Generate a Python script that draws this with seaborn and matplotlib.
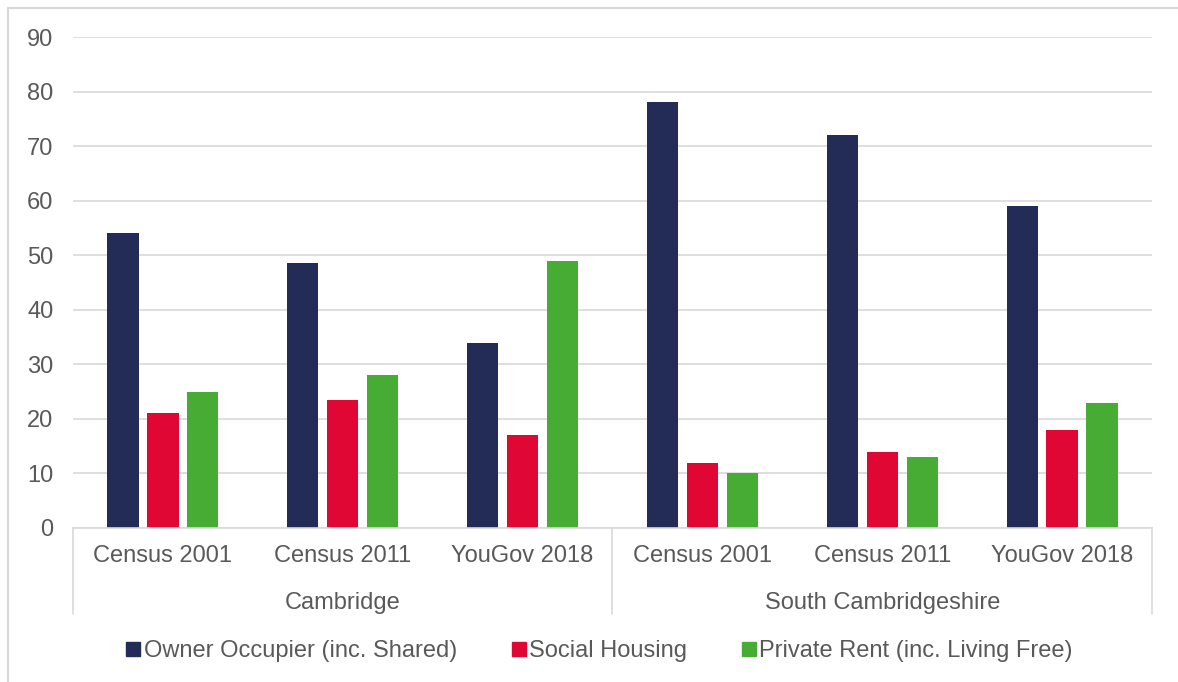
import pandas as pd
import seaborn as sns
import matplotlib.pyplot as plt
from matplotlib.lines import Line2D

# Data
groups = ['Cambridge', 'South Cambridgeshire']
periods = ['Census 2001', 'Census 2011', 'YouGov 2018']
series = ['Owner Occupier (inc. Shared)', 'Social Housing', 'Private Rent (inc. Living Free)']
owner = [54, 48.5, 34, 78, 72, 59]
social = [21, 23.5, 17, 12, 14, 18]
private = [25, 28, 49, 10, 13, 23]
colors = ['#232B57', '#E00735', '#46AC34']

# Long-form table
rows = []
for i in range(6):
    for name, vals in zip(series, [owner, social, private]):
        rows.append({'pos': i, 'series': name, 'value': vals[i]})
df = pd.DataFrame(rows)

sns.set_theme(style='white')
plt.rcParams['font.family'] = ['Liberation Sans', 'DejaVu Sans']
grey = '#595959'
fs = 17

fig = plt.figure(figsize=(11.78, 6.82), dpi=100)
ax = fig.add_axes([73 / 1178, 1 - 528 / 682, (1152 - 73) / 1178, (528 - 37) / 682])

sns.barplot(
    data=df, x='pos', y='value', hue='series',
    hue_order=series, palette=colors,
    width=0.667, gap=0.22, saturation=1,
    edgecolor='none', ax=ax, legend=False
)

ax.set_ylim(0, 90)
ax.set_xlim(-0.5, 5.5)
ax.set_yticks(range(0, 91, 10))
ax.yaxis.grid(True, color='#d9d9d9', linewidth=1.2)
ax.set_axisbelow(True)
for s in ['left', 'right', 'top']:
    ax.spines[s].set_visible(False)
ax.spines['bottom'].set_color('#d9d9d9')
ax.spines['bottom'].set_linewidth(1.2)

ax.set_xticks(range(6))
ax.set_xticklabels(periods * 2)
ax.tick_params(axis='x', length=0, pad=12.5, labelsize=fs, labelcolor=grey)
ax.tick_params(axis='y', length=0, pad=14, labelsize=fs, labelcolor=grey)
ax.set_xlabel('')
ax.set_ylabel('')

# Group separators and labels
trans = ax.get_xaxis_transform()
for xv in [-0.5, 2.5, 5.5]:
    ax.plot([xv, xv], [0, -0.175], transform=trans, color='#d9d9d9',
            linewidth=1.2, clip_on=False)
for gi, g in enumerate(groups):
    ax.text(gi * 3 + 1, -0.152, g, transform=trans, ha='center', va='center',
            fontsize=fs, color=grey)

# Legend
handles = [Line2D([], [], marker='s', linestyle='none', markersize=9.5,
                  markerfacecolor=c, markeredgecolor=c) for c in colors]
fig.legend(handles, series, loc='center', bbox_to_anchor=(0.508, 1 - 651 / 682),
           ncol=3, frameon=False, fontsize=fs, labelcolor=grey,
           handletextpad=0.05, columnspacing=2.2, handlelength=0.8)

# Outer border (top and left)
fig.add_artist(Line2D([8 / 1178, 8 / 1178], [0, 1 - 8 / 682], transform=fig.transFigure,
                      color='#d9d9d9', linewidth=1.5))
fig.add_artist(Line2D([8 / 1178, 1], [1 - 8 / 682, 1 - 8 / 682], transform=fig.transFigure,
                      color='#d9d9d9', linewidth=1.5))

fig.savefig('out.png', dpi=100, facecolor='white')
